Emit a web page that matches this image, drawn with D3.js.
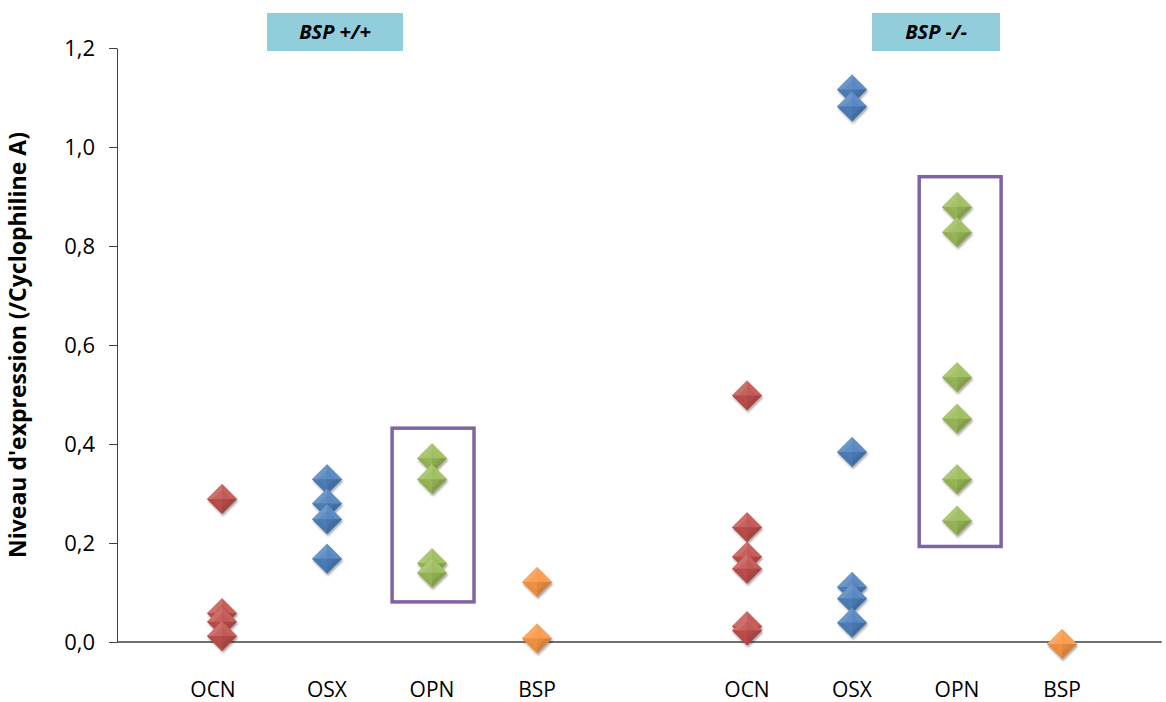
<!DOCTYPE html>
<html>
<head>
<meta charset="utf-8">
<style>
  body { margin: 0; background: #fff; }
  svg text { font-family: "Open Sans", "Noto Sans", sans-serif; fill: #000; }
</style>
</head>
<body>
  <svg width="1166" height="702"></svg>

  <script src="https://d3js.org/d3.v7.min.js"></script>

  <script>
    // category labels and their x slot (slot 5 is the gap between the two genotypes)
    const categories = ["OCN", "OSX", "OPN", "BSP", "OCN", "OSX", "OPN", "BSP"];
    const slots = [1, 2, 3, 4, 6, 7, 8, 9];
    const groupLabels = ["BSP +/+", "BSP -/-"];
    const yTicks = [0, 0.2, 0.4, 0.6, 0.8, 1.0, 1.2];

    // expression levels, BSP +/+ (wt) and BSP -/- (ko)
    const ocnWT = [0.289, 0.058, 0.041, 0.012];
    const osxWT = [0.329, 0.28, 0.248, 0.168];
    const opnWT = [0.371, 0.329, 0.159, 0.14];
    const bspWT = [0.121, 0.007];
    const ocnKO = [0.498, 0.232, 0.172, 0.148, 0.032, 0.023];
    const osxKO = [1.116, 1.082, 0.384, 0.111, 0.088, 0.039];
    const opnKO = [0.879, 0.828, 0.535, 0.451, 0.329, 0.245];
    const bspKO = [-0.004];

    // purple frames around the OPN points (slot / value extents)
    const frames = [
      { x0: 2.62, x1: 3.40, y0: 0.081, y1: 0.432 },
      { x0: 7.64, x1: 8.42, y0: 0.193, y1: 0.940 }
    ];

    const series = [
      { name: "OCN", color: "#C0504D", wt: ocnWT, ko: ocnKO, slotWT: 1, slotKO: 6 },
      { name: "OSX", color: "#4F81BD", wt: osxWT, ko: osxKO, slotWT: 2, slotKO: 7 },
      { name: "OPN", color: "#9BBB59", wt: opnWT, ko: opnKO, slotWT: 3, slotKO: 8 },
      { name: "BSP", color: "#F79646", wt: bspWT, ko: bspKO, slotWT: 4, slotKO: 9 }
    ];

    const svg = d3.select("svg");

    const x = d3.scaleLinear().domain([0, 10]).range([117, 1167]);
    const y = d3.scaleLinear().domain([0, 1.2]).range([642, 48]);

    // drop shadow for the markers
    const defs = svg.append("defs");
    defs.append("filter").attr("id", "shadow")
      .attr("x", "-50%").attr("y", "-50%").attr("width", "200%").attr("height", "200%")
      .append("feDropShadow")
      .attr("dx", 1).attr("dy", 2).attr("stdDeviation", 1.3)
      .attr("flood-color", "#000").attr("flood-opacity", 0.35);

    // y axis
    const fmt = d => d3.format(".1f")(d).replace(".", ",");
    const yAxis = svg.append("g")
      .attr("transform", `translate(${x(0)},0)`)
      .call(d3.axisLeft(y).tickValues(yTicks).tickFormat(fmt).tickSize(8).tickSizeOuter(0).tickPadding(14));
    yAxis.select(".domain").attr("stroke", "#404040");
    yAxis.selectAll(".tick line").attr("stroke", "#404040");
    yAxis.selectAll(".tick text").style("font-size", "22px").attr("fill", "#000");

    // y title
    svg.append("text")
      .attr("transform", `translate(26,${y(0.6)}) rotate(-90)`)
      .attr("text-anchor", "middle")
      .style("font-size", "23px")
      .style("font-weight", "bold")
      .text("Niveau d'expression (/Cyclophiline A)");

    // x axis line at zero
    svg.append("line")
      .attr("x1", x(0)).attr("x2", x(9.95))
      .attr("y1", y(0)).attr("y2", y(0))
      .attr("stroke", "#404040").attr("stroke-width", 1.5);

    // category labels
    svg.append("g").selectAll("text")
      .data(categories)
      .join("text")
      .attr("x", (d, i) => x(slots[i]) - (i === 0 ? 9 : 0))
      .attr("y", 697)
      .attr("text-anchor", "middle")
      .style("font-size", "21px")
      .text(d => d);

    // purple frames
    svg.append("g").selectAll("rect")
      .data(frames)
      .join("rect")
      .attr("x", d => x(d.x0))
      .attr("y", d => y(d.y1))
      .attr("width", d => x(d.x1) - x(d.x0))
      .attr("height", d => y(d.y0) - y(d.y1))
      .attr("fill", "none")
      .attr("stroke", "#8064A2")
      .attr("stroke-width", 3.5);

    // points: one diamond per measurement
    const points = [];
    series.forEach(s => {
      s.wt.forEach(v => points.push({ slot: s.slotWT, v, color: s.color }));
      s.ko.forEach(v => points.push({ slot: s.slotKO, v, color: s.color }));
    });

    const r = 15;
    const facets = [
      { p: [[-r, 0], [0, -r], [0, 0]], k: 0.3 },    // top-left
      { p: [[0, -r], [r, 0], [0, 0]], k: 0.15 },    // top-right
      { p: [[-r, 0], [0, 0], [0, r]], k: -0.1 },    // bottom-left
      { p: [[0, 0], [r, 0], [0, r]], k: -0.25 }     // bottom-right
    ];
    const shade = (c, k) => k >= 0 ? d3.interpolateRgb(c, "#fff")(k) : d3.interpolateRgb(c, "#000")(-k);

    const marks = svg.append("g").selectAll("g")
      .data(points)
      .join("g")
      .attr("transform", d => `translate(${x(d.slot)},${y(d.v)})`)
      .attr("filter", "url(#shadow)");

    marks.append("path")
      .attr("d", `M${-r},0L0,${-r}L${r},0L0,${r}Z`)
      .attr("fill", d => d.color);

    facets.forEach(f => {
      marks.append("path")
        .attr("d", "M" + f.p.map(q => q.join(",")).join("L") + "Z")
        .attr("fill", d => shade(d.color, f.k))
        .attr("fill-opacity", 0.6);
    });

    // inner bevel diamond
    marks.append("path")
      .attr("d", `M${-r * 0.6},0L0,${-r * 0.6}L${r * 0.6},0L0,${r * 0.6}Z`)
      .attr("fill", d => d.color)
      .attr("fill-opacity", 0.4);

    // genotype labels
    const labelBoxes = [
      { x0: 267, x1: 403 },
      { x0: 872, x1: 1000 }
    ];
    const lab = svg.append("g").selectAll("g")
      .data(groupLabels)
      .join("g");
    lab.append("rect")
      .attr("x", (d, i) => labelBoxes[i].x0)
      .attr("y", 13)
      .attr("width", (d, i) => labelBoxes[i].x1 - labelBoxes[i].x0)
      .attr("height", 38)
      .attr("fill", "#92CDDC");
    lab.append("text")
      .attr("x", (d, i) => (labelBoxes[i].x0 + labelBoxes[i].x1) / 2)
      .attr("y", 39)
      .attr("text-anchor", "middle")
      .style("font-size", "20px")
      .style("font-weight", "bold")
      .style("font-style", "italic")
      .text(d => d);
  </script>
</body>
</html>
